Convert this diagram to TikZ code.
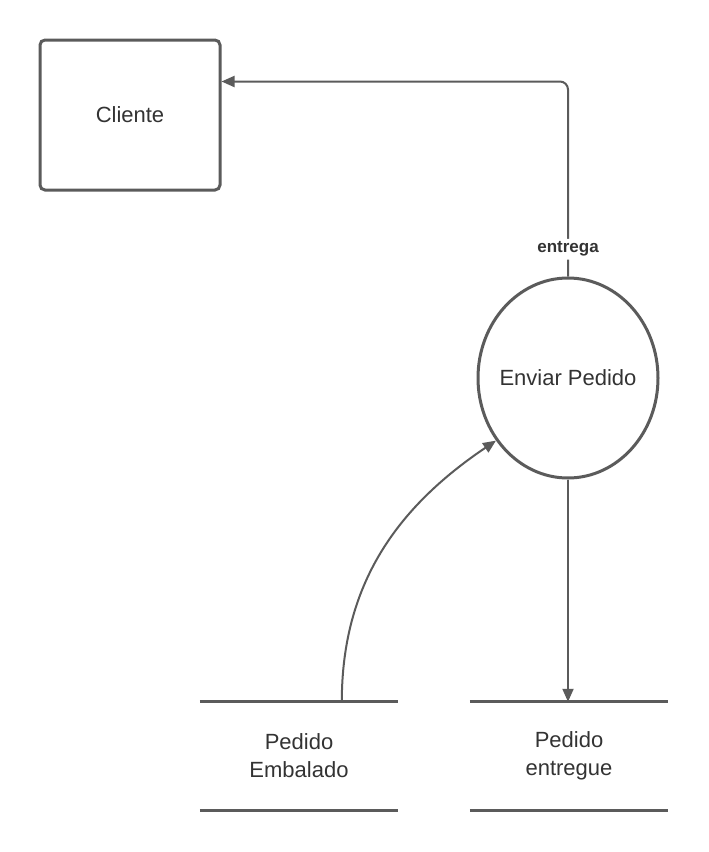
\documentclass[tikz,border=0pt]{standalone}
\usepackage{fontspec}
\setmainfont{Liberation Sans}
\usetikzlibrary{shapes.geometric,arrows.meta,calc}

\definecolor{linegray}{HTML}{5B5B5B}
\definecolor{textgray}{HTML}{333333}

\tikzset{
  entity/.style={draw=linegray, line width=3pt, rounded corners=5pt,
    minimum width=180pt, minimum height=150pt, inner sep=0pt,
    text=textgray, font=\fontsize{22}{26}\selectfont},
  process/.style={ellipse, draw=linegray, line width=3pt,
    minimum width=180pt, minimum height=200pt, inner xsep=-14pt,
    inner ysep=0pt, text=textgray, font=\fontsize{22}{26}\selectfont},
  store/.style={minimum width=198pt, minimum height=108pt, inner sep=0pt,
    align=center, text=textgray, font=\fontsize{22}{28}\selectfont},
  storeline/.style={draw=linegray, line width=3pt},
  flow/.style={draw=linegray, line width=2pt,
    -{Triangle[length=13pt,width=11pt]}},
  flowlabel/.style={fill=white, text=textgray, inner sep=3pt,
    font=\fontsize{17}{20}\selectfont\bfseries}
}

\begin{document}
\begin{tikzpicture}[x=1pt, y=-1pt]
    \useasboundingbox (0,0) rectangle (709,852);

    % Entity, process and data stores
    \node[entity] (cli) at (130,115) {Cliente};
    \node[process] (env) at (568,378) {Enviar Pedido};
    \node[store] (emb) at (299,756) {Pedido\\Embalado};
    \node[store] (ent) at (569,756) {Pedido\\entregue};

    % Store lines
    \draw[storeline] (emb.north west) -- (emb.north east);
    \draw[storeline] (emb.south west) -- (emb.south east);
    \draw[storeline] (ent.north west) -- (ent.north east);
    \draw[storeline] (ent.south west) -- (ent.south east);

    % Flows
    \coordinate (cliin) at ($(cli.north east)+(0,43)$);
    \coordinate (embout) at ($(emb.north west)+(142,0)$);
    \draw[flow, rounded corners=8pt] (env.north) |- (cliin)
        node[flowlabel, pos=0.07] {entrega};
    \draw[flow] (embout) to[out=90, in=214] (env.221);
    \draw[flow] (env.south) -- (env.south |- ent.north);
\end{tikzpicture}
\end{document}
